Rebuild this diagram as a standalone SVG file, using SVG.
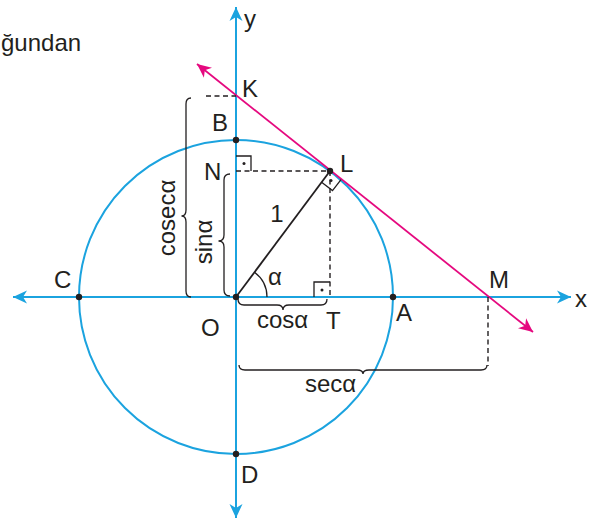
<svg xmlns="http://www.w3.org/2000/svg" width="590" height="520" viewBox="0 0 590 520">
  <style>
    .lbl { font-family: "Liberation Sans", Arial, sans-serif; font-size: 24px; fill: #231f20; }
    .axis { stroke: #1ba3df; stroke-width: 2; fill: none; }
    .tan { stroke: #e5097f; stroke-width: 1.8; fill: none; }
    .blk { stroke: #231f20; stroke-width: 1.8; fill: none; }
    .dash { stroke: #231f20; stroke-width: 1.4; fill: none; stroke-dasharray: 5 3.5; }
    .brace { stroke: #231f20; stroke-width: 1.3; fill: none; }
    .mark { stroke: #231f20; stroke-width: 1.3; fill: none; }
    .pt { fill: #231f20; }
  </style>
  <defs>
    <marker id="arrBlue" viewBox="-15 -8 16 16" refX="0" refY="0" markerWidth="16" markerHeight="16" markerUnits="userSpaceOnUse" orient="auto-start-reverse">
      <path d="M0,0 L-14,-6.5 L-10,0 L-14,6.5 Z" fill="#1ba3df"/>
    </marker>
    <marker id="arrPink" viewBox="-15 -8 16 16" refX="0" refY="0" markerWidth="16" markerHeight="16" markerUnits="userSpaceOnUse" orient="auto-start-reverse">
      <path d="M0,0 L-14,-6.5 L-10,0 L-14,6.5 Z" fill="#e5097f"/>
    </marker>
  </defs>

  <rect width="590" height="520" fill="#ffffff"/>

  <text class="lbl" x="1" y="51">ğundan</text>

  <g id="circle">
    <circle cx="236" cy="297" r="157" class="axis"/>
  </g>

  <g id="connectors">
    <line id="x-axis" x1="13" y1="297" x2="571" y2="297" class="axis" marker-start="url(#arrBlue)" marker-end="url(#arrBlue)"/>
    <line id="y-axis" x1="236" y1="7" x2="236" y2="518" class="axis" marker-start="url(#arrBlue)" marker-end="url(#arrBlue)"/>
    <line id="tangent" x1="197" y1="64" x2="533" y2="332" class="tan" marker-start="url(#arrPink)" marker-end="url(#arrPink)"/>
    <line id="OL" x1="236" y1="297" x2="330" y2="171" class="blk"/>
    <line x1="206" y1="96" x2="236" y2="96" class="dash"/>
    <line x1="236" y1="171" x2="330" y2="171" class="dash"/>
    <line x1="330" y1="171" x2="330" y2="297" class="dash"/>
    <line x1="488" y1="297" x2="488" y2="366" class="dash"/>
    <path d="M267,297 A31,31 0 0 0 254.5,272.2" class="mark"/>
  </g>

  <g id="right-angles">
    <path d="M236,156 L251,156 L251,171" class="mark"/>
    <circle cx="244" cy="163.5" r="1.5" class="pt"/>
    <path d="M314,297 L314,282 L330,282" class="mark"/>
    <circle cx="322" cy="290" r="1.5" class="pt"/>
    <path d="M321.6,182.2 L332.5,190.6 L341.0,179.7" class="mark"/>
    <circle cx="331" cy="180.5" r="1.5" class="pt"/>
  </g>

  <g id="braces">
    <path d="M191,98 Q186,98 186,104 L186,210 Q186,216 181.5,216 Q186,216 186,222 L186,291 Q186,297 191,297" class="brace"/>
    <path d="M230,174 Q224,174 224,180 L224,235 Q224,241 218.5,241 Q224,241 224,247 L224,290 Q224,296 230,296" class="brace"/>
    <path d="M238,299 Q238,305 244,305 L277,305 Q283,305 283,310 Q283,305 289,305 L321,305 Q327,305 327,299" class="brace"/>
    <path d="M239,365 Q239,370 245,370 L357,370 Q363,370 363,374 Q363,370 369,370 L481,370 Q487,370 487,365" class="brace"/>
  </g>

  <g id="node-O"><circle cx="236" cy="297" r="3.2" class="pt"/><text class="lbl" x="201" y="336">O</text></g>
  <g id="node-A"><circle cx="393" cy="297" r="3.2" class="pt"/><text class="lbl" x="396" y="321">A</text></g>
  <g id="node-B"><circle cx="236" cy="140" r="3.2" class="pt"/><text class="lbl" x="212" y="131">B</text></g>
  <g id="node-C"><circle cx="79" cy="297" r="3.2" class="pt"/><text class="lbl" x="54" y="288">C</text></g>
  <g id="node-D"><circle cx="236" cy="454" r="3.2" class="pt"/><text class="lbl" x="241" y="483">D</text></g>
  <g id="node-L"><circle cx="330" cy="171" r="3.2" class="pt"/><text class="lbl" x="340" y="172">L</text></g>
  <g id="node-K"><text class="lbl" x="242" y="97">K</text></g>
  <g id="node-N"><text class="lbl" x="204" y="180">N</text></g>
  <g id="node-T"><text class="lbl" x="326" y="329">T</text></g>
  <g id="node-M"><text class="lbl" x="489" y="288">M</text></g>
  <g id="label-x"><text class="lbl" x="575" y="307">x</text></g>
  <g id="label-y"><text class="lbl" x="244" y="27">y</text></g>

  <g id="labels">
    <text class="lbl" x="277" y="222" text-anchor="middle">1</text>
    <text class="lbl" x="268" y="285">α</text>
    <text class="lbl" x="257" y="328">cosα</text>
    <text class="lbl" x="305" y="392">secα</text>
    <text class="lbl" transform="translate(175,218) rotate(-90)" text-anchor="middle">cosecα</text>
    <text class="lbl" transform="translate(212,242) rotate(-90)" text-anchor="middle">sinα</text>
  </g>
</svg>
